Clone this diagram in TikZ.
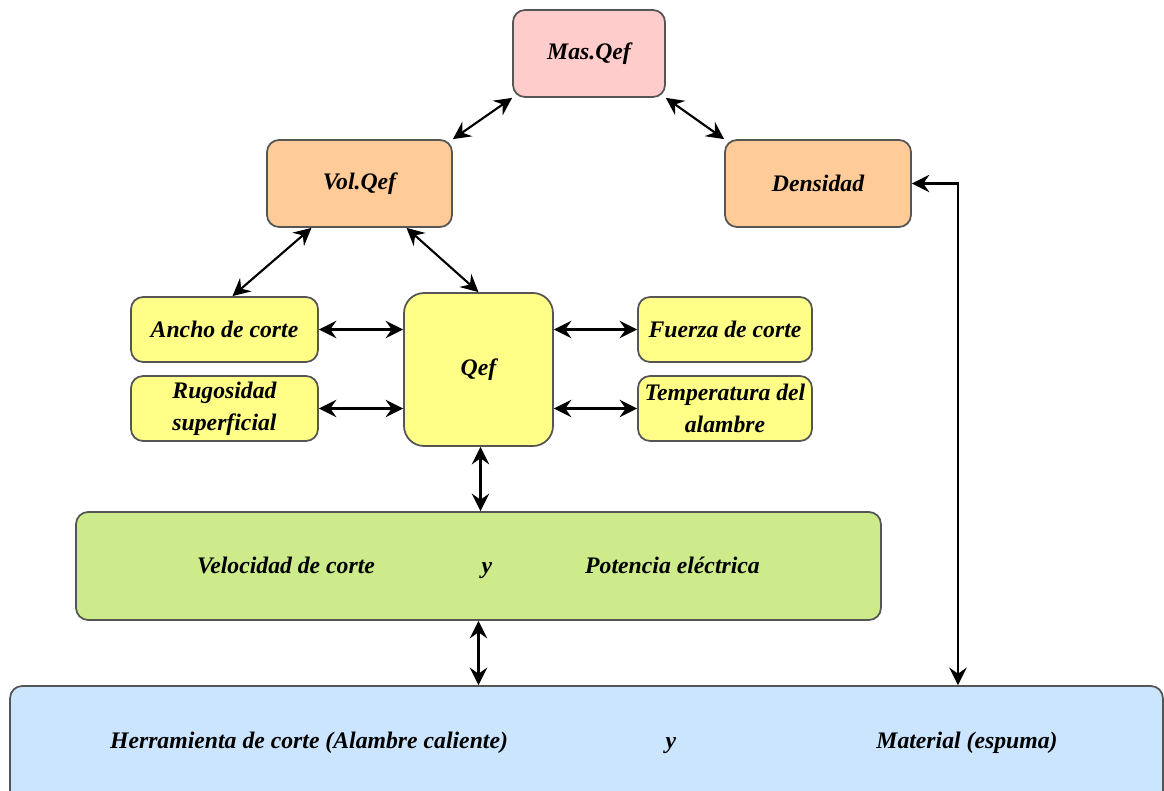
\documentclass[tikz,border=0pt]{standalone}
\usepackage{fontspec}
\setmainfont{Liberation Serif}
\usetikzlibrary{arrows.meta}
\usetikzlibrary{calc}
\usetikzlibrary{positioning}
\definecolor{masfill}{HTML}{FFCCCC}
\definecolor{volfill}{HTML}{FFCC99}
\definecolor{qeffill}{HTML}{FFFF88}
\definecolor{velfill}{HTML}{CDEB8B}
\definecolor{herrfill}{HTML}{CCE5FF}
\definecolor{edge}{HTML}{555555}
\tikzset{box/.style = {draw=edge, line width=1pt, rounded corners=0.24cm, align=center,
                       font=\fontsize{13.5}{18}\selectfont\bfseries\itshape, inner sep=2pt}}
\tikzset{boxtext/.style = {font=\fontsize{13.5}{18}\selectfont\bfseries\itshape, inner sep=0pt,
                           text height=1.6ex, text depth=0.4ex}}
\tikzset{link/.style = {<->, >={Stealth[length=10pt,width=10pt,inset=3.5pt]}, line width=1.2pt}}

\begin{document}
\begin{tikzpicture}[x=0.02cm, y=-0.02cm]
    \clip (0,0) rectangle (1164,791);
    \node [box, fill=masfill, minimum width=3.04cm, minimum height=1.74cm] (mas) at (589,53.5) {Mas.Qef};
    \node [box, fill=volfill, minimum width=3.7cm, minimum height=1.74cm] (vol) at (359.5,183.5) {Vol.Qef};
    \node [box, fill=volfill, minimum width=3.72cm, minimum height=1.74cm] (dens) at (818,183.5) {Densidad};
    \node [box, fill=qeffill, minimum width=3.74cm, minimum height=1.3cm] (ancho) at (224.5,329.5) {Ancho de corte};
    \node [box, fill=qeffill, minimum width=3.74cm, minimum height=1.3cm] (rugo) at (224.5,408.5) {Rugosidad\\superficial};
    \node [box, fill=qeffill, minimum width=2.98cm, minimum height=3.06cm, rounded corners=0.4cm] (qef) at (478.5,369.5) {Qef};
    \node [box, fill=qeffill, minimum width=3.48cm, minimum height=1.3cm] (fuerza) at (725,329.5) {Fuerza de corte};
    \node [box, fill=qeffill, minimum width=3.48cm, minimum height=1.3cm] (temp) at (725,408.5) {Temperatura del\\alambre};
    \node [box, fill=velfill, minimum width=16.1cm, minimum height=2.16cm] (vel) at (478.5,566) {};
    \node [box, fill=herrfill, minimum width=23.06cm, minimum height=3.28cm] (herr) at (586.5,768) {};
    \node [boxtext] (veltxt) at (286,569) {Velocidad de corte};
    \node [boxtext] (vely) at (487,569) {y};
    \node [boxtext] (pottxt) at (672.5,569) {Potencia eléctrica};
    \node [boxtext] (herrtxt) at (309,744) {Herramienta de corte (Alambre caliente)};
    \node [boxtext] (herry) at (671,744) {y};
    \node [boxtext] (mattxt) at (967,744) {Material (espuma)};
    \coordinate (bend) at (958,183.5);
    \draw [link] (mas.south west) -- (vol.north east);
    \draw [link] (mas.south east) -- (dens.north west);
    \draw [link] ($(vol.south)+(-48,0)$) -- ($(ancho.north)+(8,0)$);
    \draw [link] ($(vol.south)+(47,0)$) -- (qef.north);
    \draw [link] (ancho.east) -- (ancho.east -| qef.west);
    \draw [link] (rugo.east) -- (rugo.east -| qef.west);
    \draw [link] (qef.east |- fuerza.west) -- (fuerza.west);
    \draw [link] (qef.east |- temp.west) -- (temp.west);
    \draw [link] ($(qef.south)+(2,0)$) -- ($(qef.south |- vel.north)+(2,0)$);
    \draw [link] (vel.south) -- (vel.south |- herr.north);
    \draw [link] (dens.east) -- (bend) -- (bend |- herr.north);
  \end{tikzpicture}
\end{document}
